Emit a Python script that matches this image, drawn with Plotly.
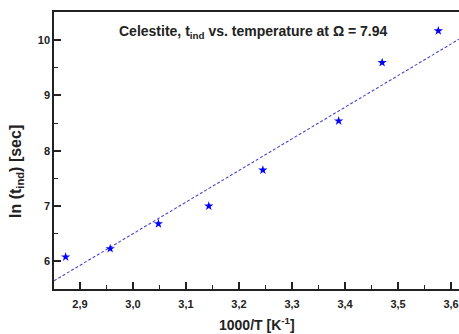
import plotly.graph_objects as go

# Data
inv_T = [2.873, 2.957, 3.048, 3.143, 3.245, 3.388, 3.470, 3.576]
ln_tind = [6.08, 6.23, 6.68, 7.00, 7.65, 8.54, 9.595, 10.17]

# Linear fit line parameters as drawn in the reference
fit_slope = 5.72
fit_intercept = -10.66

x_ticks = [2.9, 3.0, 3.1, 3.2, 3.3, 3.4, 3.5, 3.6]
x_ticklabels = ["2,9", "3,0", "3,1", "3,2", "3,3", "3,4", "3,5", "3,6"]
y_ticks = [6, 7, 8, 9, 10]
y_ticklabels = ["6", "7", "8", "9", "10"]

x_range = [2.851, 3.615]
y_range = [5.5, 10.51]

fit_x = list(x_range)
fit_y = [fit_slope * v + fit_intercept for v in fit_x]

fig = go.Figure()
fig.add_trace(go.Scatter(
    x=fit_x, y=fit_y, mode="lines",
    line=dict(color="#4848c8", width=1.1, dash="3px,2px"),
    showlegend=False, hoverinfo="skip"))
fig.add_trace(go.Scatter(
    x=inv_T, y=ln_tind, mode="markers",
    marker=dict(symbol="star", size=7, color="#0000ff",
                line=dict(width=0)),
    showlegend=False))

FONT = "Liberation Sans, Arial, sans-serif"
tickfont = dict(family=FONT, size=11, color="#222222", weight="bold")

fig.update_layout(
    width=459, height=334,
    margin=dict(l=54, r=0, t=12, b=45),
    paper_bgcolor="white", plot_bgcolor="white",
    xaxis=dict(range=x_range, tickvals=x_ticks, ticktext=x_ticklabels,
               ticks="inside", ticklen=7, tickwidth=1.5, tickcolor="#222",
               showline=True, linecolor="#222", linewidth=1.5, mirror=True,
               showgrid=False, zeroline=False, tickfont=tickfont,
               ticklabelstandoff=4,
               minor=dict(dtick=0.05, ticks="inside", ticklen=4,
                          tickwidth=1.2, tickcolor="#222", showgrid=False)),
    yaxis=dict(range=y_range, tickvals=y_ticks, ticktext=y_ticklabels,
               ticks="inside", ticklen=7, tickwidth=1.5, tickcolor="#222",
               showline=True, linecolor="#222", linewidth=1.5, mirror=False,
               showgrid=False, zeroline=False, tickfont=tickfont,
               minor=dict(dtick=0.5, ticks="inside", ticklen=4,
                          tickwidth=1.2, tickcolor="#222", showgrid=False)),
    font=dict(family=FONT, color="#222"),
)

fig.add_annotation(
    text="<b>Celestite, t<sub>ind</sub> vs. temperature at Ω = 7.94</b>",
    xref="paper", yref="paper", x=(253 - 54) / 405, y=1, yanchor="middle",
    yshift=-20, showarrow=False,
    font=dict(size=14, family=FONT, color="#222"))

fig.add_annotation(
    text="<b>1000/T [K<sup>-1</sup>]</b>",
    xref="paper", yref="paper", x=(257 - 54) / 405, y=0, yanchor="middle",
    yshift=-35, showarrow=False,
    font=dict(size=14, family=FONT, color="#222"))

fig.add_annotation(
    text="<b>ln (t<sub>ind</sub>) [sec]</b>",
    xref="paper", yref="paper", x=0, y=(289 - 172) / 277, xanchor="center",
    xshift=-38, textangle=-90, showarrow=False,
    font=dict(size=16, family=FONT, color="#222"))

fig.write_html("out.html")
